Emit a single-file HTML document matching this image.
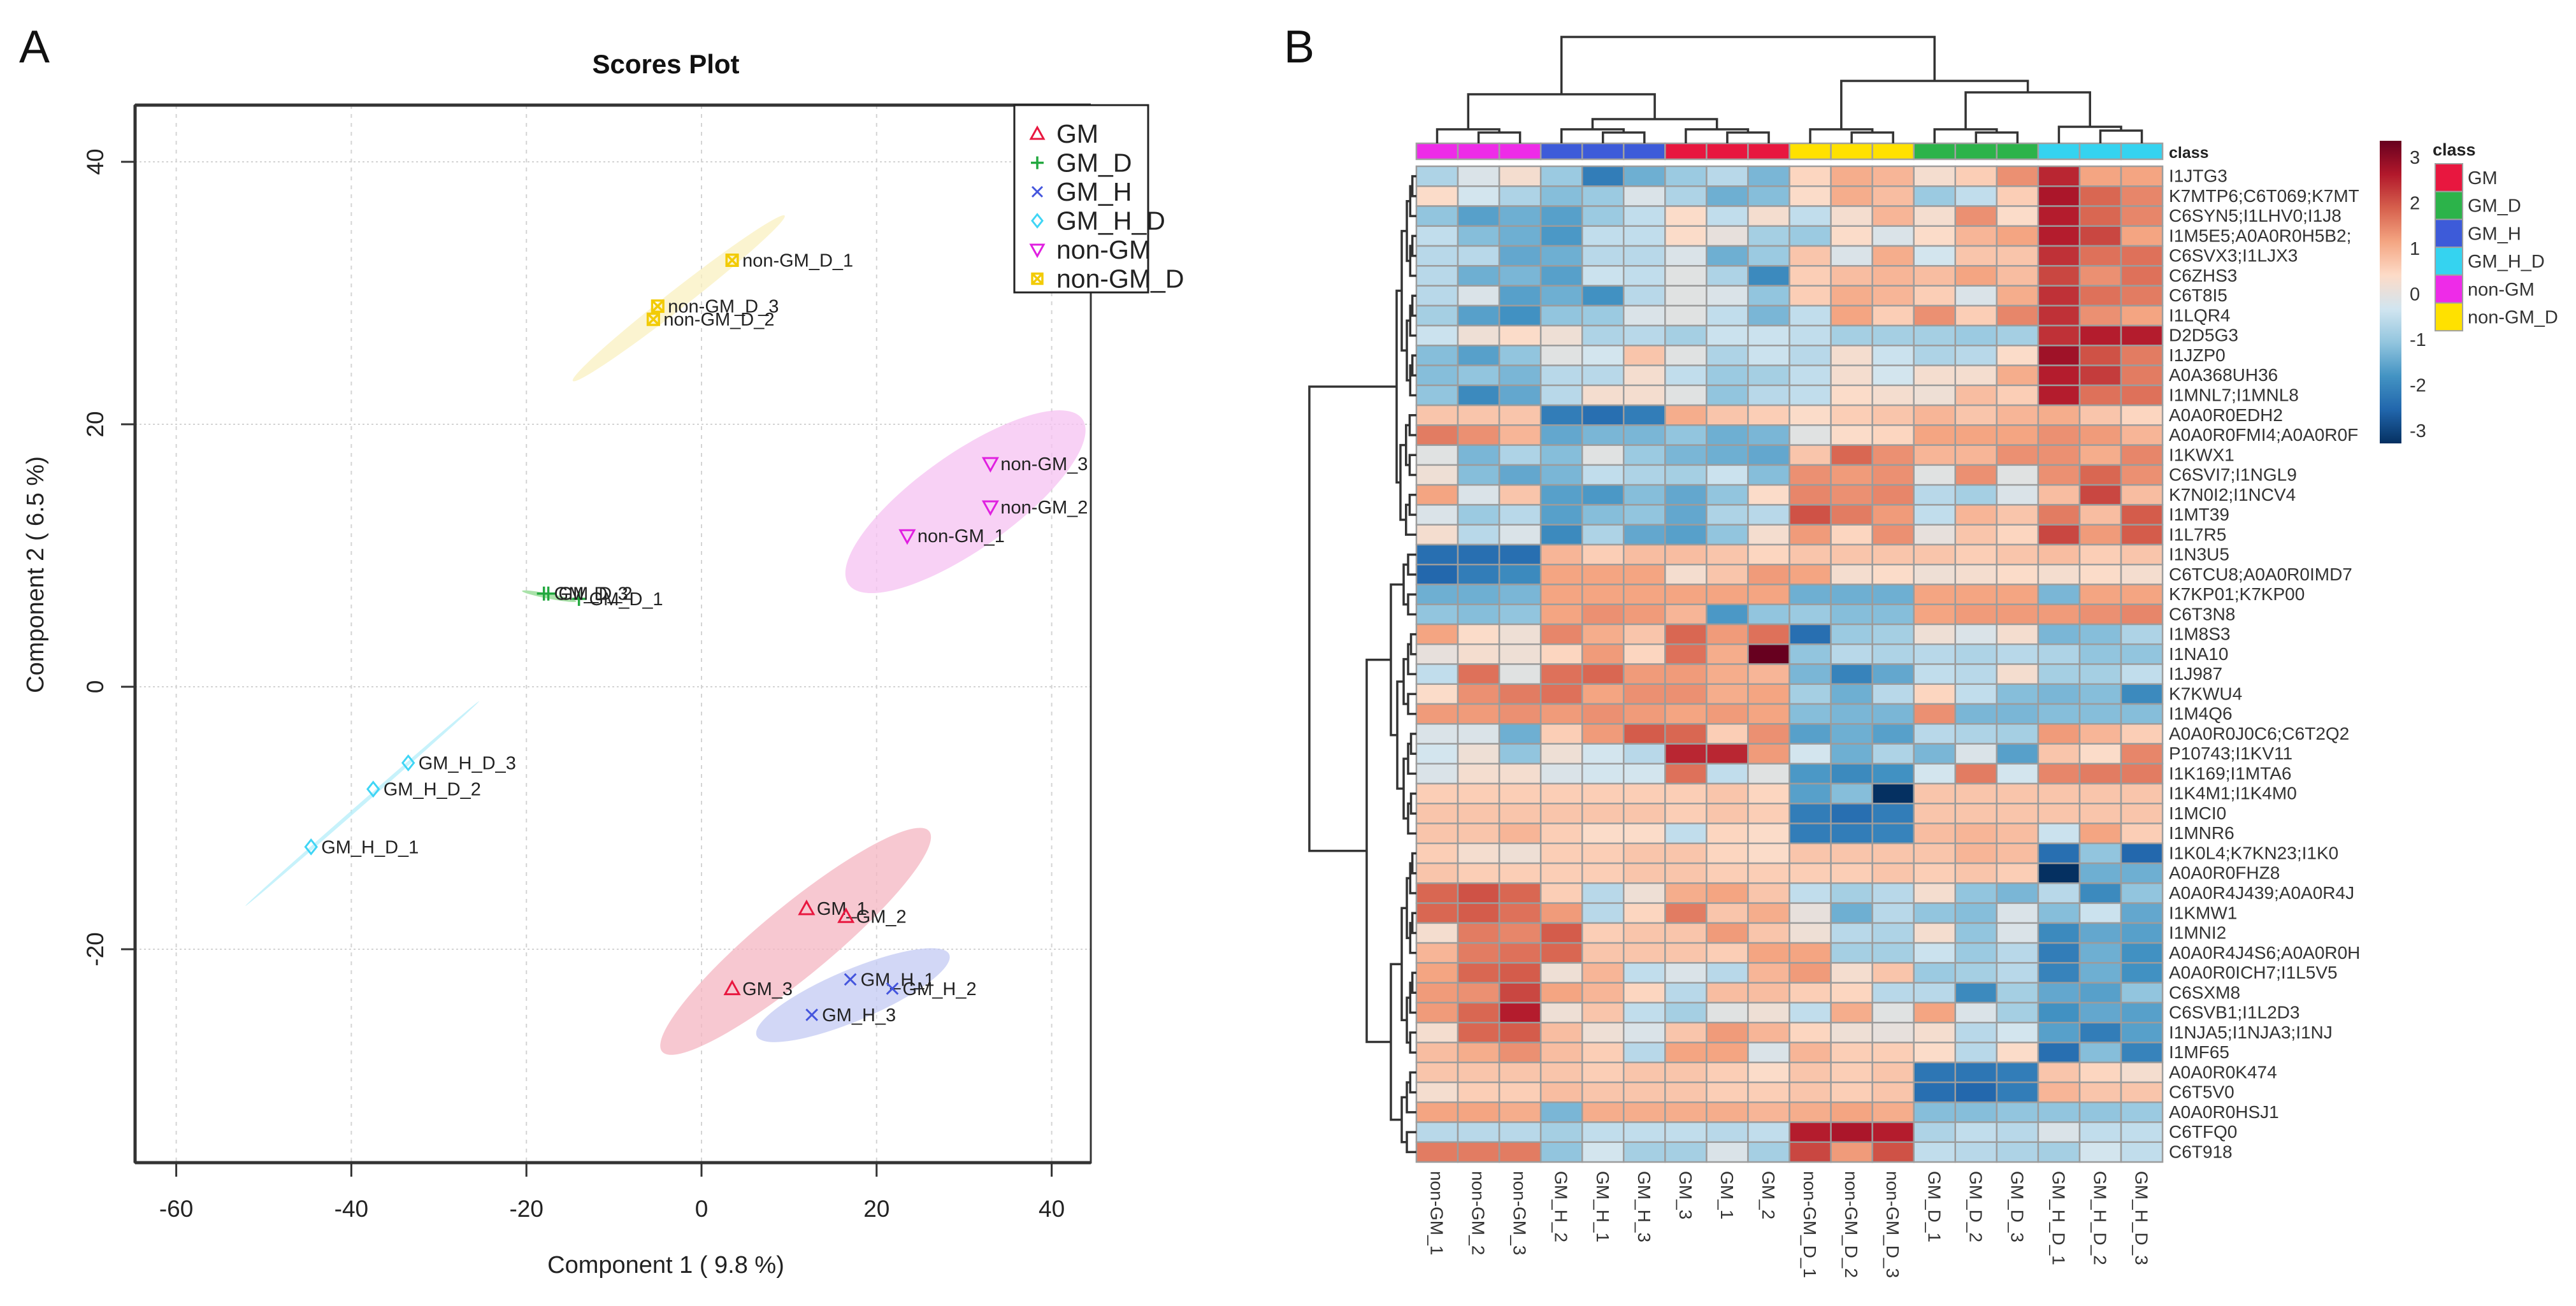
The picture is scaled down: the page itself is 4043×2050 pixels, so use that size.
<!DOCTYPE html>
<html><head><meta charset="utf-8">
<style>
html,body{margin:0;padding:0;background:#fff;}
svg{display:block;font-family:"Liberation Sans",sans-serif;}
</style></head>
<body>
<svg id="fig" width="4043" height="2050" viewBox="0 0 4043 2050" xmlns="http://www.w3.org/2000/svg">
  <defs>
    <linearGradient id="cbar" x1="0" y1="1" x2="0" y2="0">
      <stop offset="0" stop-color="#053061"/><stop offset="0.111" stop-color="#2166AC"/>
      <stop offset="0.222" stop-color="#4393C3"/><stop offset="0.333" stop-color="#92C5DE"/>
      <stop offset="0.444" stop-color="#D1E5F0"/><stop offset="0.5" stop-color="#E7E0DC"/>
      <stop offset="0.556" stop-color="#FDDBC7"/><stop offset="0.667" stop-color="#F4A582"/>
      <stop offset="0.778" stop-color="#D6604D"/><stop offset="0.889" stop-color="#B2182B"/>
      <stop offset="1" stop-color="#67001F"/>
    </linearGradient>
  </defs>
  <text x="30" y="98" font-size="72" fill="#111">A</text>
  <text x="2015" y="98" font-size="72" fill="#111">B</text>
  <g id="scatter"></g>
  <g id="heat"></g>
</svg>
<script>
// ---------- Scores plot data ----------
const sampleNames = ["GM_1","GM_2","GM_3","GM_D_1","GM_D_2","GM_D_3","GM_H_1","GM_H_2","GM_H_3","GM_H_D_1","GM_H_D_2","GM_H_D_3","non-GM_1","non-GM_2","non-GM_3","non-GM_D_1","non-GM_D_2","non-GM_D_3"];
const comp1 = [12,16.5,3.5,-14,-17.5,-18,17,21.8,12.6,-44.6,-37.5,-33.5,23.5,33,33,3.5,-5.5,-5];
const comp2 = [-16.9,-17.5,-23,6.7,7.1,7.1,-22.3,-23,-25,-12.2,-7.8,-5.8,11.5,13.7,17,32.5,28,29];
const sampleGroup = [0,0,0,1,1,1,2,2,2,3,3,3,4,4,4,5,5,5];
const groupNames = ["GM","GM_D","GM_H","GM_H_D","non-GM","non-GM_D"];
const xTicks = [-60,-40,-20,0,20,40];
const yTicks = [-20,0,20,40];
const ellipseStartX = [-4.5,-20.5,6.3,-52.1,16.8,-14.7];
const ellipseStartY = [-27.8,7.3,-26.6,-16.7,7.8,23.3];
const ellipseEndX = [26,-14.3,28.3,-25.4,43.5,9.5];
const ellipseEndY = [-11,6.5,-20.4,-1.1,20.4,35.9];
const ellipseMinor = [55,4,40,3,75,15];

// ---------- Heatmap data ----------
const colLabels = ["non-GM_1","non-GM_2","non-GM_3","GM_H_2","GM_H_1","GM_H_3","GM_3","GM_1","GM_2","non-GM_D_1","non-GM_D_2","non-GM_D_3","GM_D_1","GM_D_2","GM_D_3","GM_H_D_1","GM_H_D_2","GM_H_D_3"];
const colClass = [4,4,4,2,2,2,0,0,0,5,5,5,1,1,1,3,3,3];
const rowLabels = ["I1JTG3","K7MTP6;C6T069;K7MT","C6SYN5;I1LHV0;I1J8","I1M5E5;A0A0R0H5B2;","C6SVX3;I1LJX3","C6ZHS3","C6T8I5","I1LQR4","D2D5G3","I1JZP0","A0A368UH36","I1MNL7;I1MNL8","A0A0R0EDH2","A0A0R0FMI4;A0A0R0F","I1KWX1","C6SVI7;I1NGL9","K7N0I2;I1NCV4","I1MT39","I1L7R5","I1N3U5","C6TCU8;A0A0R0IMD7","K7KP01;K7KP00","C6T3N8","I1M8S3","I1NA10","I1J987","K7KWU4","I1M4Q6","A0A0R0J0C6;C6T2Q2","P10743;I1KV11","I1K169;I1MTA6","I1K4M1;I1K4M0","I1MCI0","I1MNR6","I1K0L4;K7KN23;I1K0","A0A0R0FHZ8","A0A0R4J439;A0A0R4J","I1KMW1","I1MNI2","A0A0R4J4S6;A0A0R0H","A0A0R0ICH7;I1L5V5","C6SXM8","C6SVB1;I1L2D3","I1NJA5;I1NJA3;I1NJ","I1MF65","A0A0R0K474","C6T5V0","A0A0R0HSJ1","C6TFQ0","C6T918"];
const values = [
[-0.7,-0.2,0.2,-0.9,-2,-1.3,-0.9,-0.6,-1.2,0.4,0.9,0.8,0.2,0.5,1.2,2.2,1,1],
[0.3,-0.3,-0.7,-1.1,-0.9,-0.2,-0.7,-1.3,-1.1,0.3,0.9,0.7,-0.9,-0.5,0.5,2.4,1.6,1.3],
[-1,-1.5,-1.3,-1.5,-0.9,-0.5,0.3,-0.5,0.2,-0.5,0.2,0.8,0.2,1.2,0.3,2.3,1.6,1.3],
[-0.5,-1.1,-1.3,-1.6,-0.5,-0.5,0.3,0,-0.8,-0.9,0.3,-0.2,0.3,0.8,1,2.3,1.9,1],
[-0.6,-0.6,-1.4,-1.3,-0.6,-0.6,-0.2,-1.3,-0.9,0.6,-0.2,0.9,-0.3,0.6,0.6,2.1,1.5,1.5],
[-0.6,-1.3,-1.2,-1.5,-0.4,-0.5,-0.1,-0.7,-1.8,0.5,0.7,0.8,0.7,1,0.7,1.9,1.2,1.5],
[-0.6,-0.2,-1.5,-1.3,-1.7,-0.6,-0.1,-0.2,-1,0.5,0.9,0.8,0.5,-0.2,0.9,2.1,1.5,1.4],
[-0.8,-1.5,-1.7,-1,-0.9,-0.2,-0.1,-0.5,-1.2,-0.5,1,0.5,1.2,0.5,1.3,2.1,1.2,1],
[-0.4,0.1,0.3,0.1,-0.7,-0.6,-0.8,-0.4,-0.4,-0.5,-0.8,-0.8,-0.8,-0.9,-0.8,2.1,2.3,2.3],
[-1.1,-1.5,-1,-0.1,-0.3,0.6,-0.1,-0.7,-0.4,-0.6,0.2,-0.4,-0.7,-0.6,0.3,2.5,1.8,1.4],
[-1.1,-1,-1.2,-0.6,-0.6,0.2,-0.5,-0.9,-0.8,-0.5,0.2,-0.3,0.2,0.2,0.9,2.3,2,1.4],
[-1,-1.8,-1.4,-0.6,0.2,0.2,-0.1,-1,-0.6,-0.5,0.3,0.2,0.1,0.7,0.5,2.3,1.5,1.5],
[0.6,0.6,0.6,-2,-2.2,-2,0.9,0.6,0.5,0.3,0.5,0.6,0.8,0.6,0.8,0.9,0.6,0.4],
[1.4,1.2,0.8,-1.4,-1.2,-1.2,-1,-1.3,-1.2,-0.1,0.3,0.4,1,1,1,1.2,1.1,0.8],
[-0.1,-1.2,-0.7,-1.1,-0.1,-0.9,-1.2,-1.3,-1.4,0.6,1.6,1.2,0.8,0.8,1.2,1.2,0.9,1.3],
[0.1,-1.1,-1.4,-1.2,-0.5,-0.7,-0.8,-0.4,-1.1,1.2,1.1,1.2,-0.1,1.2,-0.1,1.2,1.6,1.2],
[1,-0.2,0.6,-1.5,-1.6,-1.1,-1.4,-1,0.3,1.3,1.2,1.3,-0.6,-0.8,-0.2,0.7,1.9,0.7],
[-0.2,-0.9,-0.6,-1.5,-1.1,-1,-1.4,-0.7,-0.6,1.8,1.4,1.1,-0.5,0.8,0.6,1.4,0.7,1.7],
[0.2,-0.6,-0.2,-1.8,-0.7,-1.4,-1.5,-1,0.2,1.1,0.4,1.2,0,0.6,0.4,1.9,1.1,1.7],
[-2.2,-2.2,-2.2,0.8,0.5,0.7,0.7,0.6,0.4,0.6,0.6,0.6,0.6,0.5,0.6,0.7,0.5,0.6],
[-2.3,-2,-1.8,1,1,1,0.2,0.6,1.1,1,0.2,0.3,0.1,0.2,0.3,0.2,0.3,0.2],
[-1.3,-1.3,-1.2,1,1,1,1,1,1,-1.3,-1.3,-1.3,1,1,1,-1.2,1,1],
[-1,-1.1,-1,1,1.2,1.1,0.8,-1.6,-1,-0.9,-1.1,-1.1,1,1.1,1.1,1.1,1.2,1.3],
[1,0.3,0.1,1.3,0.9,0.6,1.6,1.1,1.5,-2.2,-0.9,-0.8,0.1,-0.2,0.2,-1.2,-1.1,-0.7],
[0,0.2,0.1,0.4,1.1,0.4,1.5,0.9,3.2,-1,-0.6,-0.7,-0.6,-0.7,-0.6,-0.7,-1,-1],
[-0.5,1.5,-0.1,1.5,1.6,1.1,1.1,0.9,0.8,-1.2,-1.9,-1.4,-0.5,-0.6,0.2,-0.8,-0.8,-0.5],
[0.3,1.2,1.4,1.5,1,1.2,1.2,0.9,1,-0.8,-1.3,-0.6,0.4,-0.5,-1.1,-1.2,-1.1,-1.8],
[1.1,1.1,1.2,1.1,1.2,1.1,1,1.1,1,-1.1,-1.2,-1.2,1.2,-1.2,-1.2,-1.1,-1.1,-1.1],
[-0.2,-0.2,-1.3,0.5,1.1,1.7,1.6,0.5,1.2,-1.5,-1.3,-1.5,-0.6,-0.7,-0.8,1.1,0.8,0.5],
[-0.3,0.1,-1,0.1,-0.3,-0.6,2.2,2.2,1.1,-0.3,-1.3,-0.7,-1.2,-0.2,-1.5,0.6,0.3,1.3],
[-0.2,0.2,0.2,-0.2,-0.3,-0.3,1.5,-0.5,-0.1,-1.6,-1.8,-1.7,-0.3,1.4,-0.3,1.3,1.4,1.4],
[0.5,0.5,0.5,0.5,0.5,0.5,0.5,0.6,0.4,-1.5,-1.1,-3.2,0.6,0.6,0.6,0.6,0.6,0.6],
[0.6,0.6,0.6,0.6,0.6,0.6,0.5,0.6,0.5,-2,-2.2,-2,0.6,0.6,0.6,0.6,0.6,0.6],
[0.6,0.6,0.8,0.5,0.3,0.3,-0.5,0.4,0.3,-2,-2,-1.9,0.7,0.8,0.7,-0.4,1,0.5],
[0.5,0.2,0.1,0.5,0.5,0.6,0.6,0.4,0.3,0.6,0.6,0.6,0.6,0.8,0.7,-2.2,-1,-2.3],
[0.6,0.5,0.5,0.5,0.5,0.6,0.6,0.5,0.5,0.5,0.5,0.6,0.5,0.6,0.5,-3.2,-1.3,-1.3],
[1.6,1.8,1.6,0.5,-0.6,0.1,0.9,1,0.6,-0.5,-0.8,-0.6,0.2,-1,-1.2,-0.6,-1.8,-1],
[1.6,1.7,1.5,1.1,-0.6,0.4,1.4,0.6,0.9,0,-1.3,-0.6,-1,-1.1,-0.2,-1.1,-0.4,-1.4],
[0.2,1.4,1.3,1.7,0.5,0.6,0.6,1.1,0.6,0.1,-0.6,-0.7,0.2,-1,-0.2,-1.8,-1.4,-1.5],
[0.8,1.4,1.5,1.6,0.6,0.6,0.6,0.5,1,1,-0.8,-0.8,-0.4,-0.9,-0.6,-2,-1.3,-1.7],
[1,1.6,1.7,0.1,0.8,-0.5,-0.2,-0.6,0.8,1.1,0.2,0.6,-0.9,-0.8,-0.6,-1.9,-1.3,-1.7],
[1.1,1.2,1.9,1,0.8,0.4,-0.6,0.7,0.7,0.5,0.4,-0.6,-0.6,-1.8,-0.8,-1.4,-1.5,-1],
[1.1,1.6,2.3,0.1,0.6,-0.5,-0.8,-0.1,0.1,-0.5,0.9,-0.1,1,-0.2,-0.8,-1.7,-1.4,-1.5],
[0.2,1.6,1.7,0.7,0.1,-0.2,0.6,1.1,0.8,0.4,0.1,0,0.2,-0.6,-0.3,-1.5,-2,-1.5],
[0.7,0.9,1.2,0.7,0.5,-0.6,1,1,-0.2,0.8,0.5,0.5,0.3,-0.6,0.3,-2.2,-1.1,-1.9],
[0.6,0.6,0.6,0.6,0.5,0.6,0.6,0.5,0.3,0.6,0.5,0.6,-2.1,-2.1,-2,0.6,0.4,0.2],
[0.2,0.5,0.5,0.7,0.6,0.6,0.6,0.5,0.5,0.6,0.5,0.6,-2.2,-2.3,-2,0.8,0.6,0.6],
[1,1,0.9,-1.2,0.9,0.9,0.9,0.9,0.8,0.9,1,0.9,-1.1,-1.1,-1,-1,-1,-0.9],
[-0.6,-0.6,-0.6,-0.8,-0.5,-0.5,-0.5,-0.6,-0.5,2.3,2.4,2.3,-0.7,-0.5,-0.6,-0.2,-0.5,-0.5],
[1.4,1.4,1.4,-1,-0.3,-0.8,-0.8,-0.2,-0.8,1.9,1.1,1.8,-0.5,-0.6,-0.7,-0.8,-0.3,-0.5]
];
const scaleTicks = [3,2,1,0,-1,-2,-3];

const NS = "http://www.w3.org/2000/svg";
function mk(parent, tag, attrs, text){
  const e = document.createElementNS(NS, tag);
  for (const k in attrs) e.setAttribute(k, attrs[k]);
  if (text !== undefined) e.textContent = text;
  parent.appendChild(e);
  return e;
}

// ================= SCATTER =================
const sc = document.getElementById('scatter');
const PX0 = 212, PX1 = 1712, PY0 = 165, PY1 = 1825;
function sx(v){ return 1101 + 13.74 * v; }
function sy(v){ return 1078 - 20.6 * v; }
const groupColors = ["#E8173F","#22A83F","#4455DD","#3FD5F5","#E020E0","#F2CB05"];
const ellFill = ["#F4B6C2","#8CD88C","#C3CAF3","#B4EEFA","#F6C1F2","#FAF0C0"];

xTicks.forEach(t => {
  const g = mk(sc,'line',{x1:sx(t),x2:sx(t),y1:PY0,y2:PY1,stroke:"#d4d4d4","stroke-width":2,"stroke-dasharray":"6,8"});
  
  
});
yTicks.forEach(t => {
  const g = mk(sc,'line',{x1:PX0,x2:PX1,y1:sy(t),y2:sy(t),stroke:"#d4d4d4","stroke-width":2,"stroke-dasharray":"3,4"});
  
  
});
for (let i=0;i<ellipseStartX.length;i++){
  const x1=sx(ellipseStartX[i]), y1=sy(ellipseStartY[i]), x2=sx(ellipseEndX[i]), y2=sy(ellipseEndY[i]);
  const cx=(x1+x2)/2, cy=(y1+y2)/2, len=Math.hypot(x2-x1,y2-y1)/2;
  const ang=Math.atan2(y2-y1,x2-x1)*180/Math.PI;
  const e = mk(sc,'ellipse',{cx:cx,cy:cy,rx:len,ry:ellipseMinor[i],fill:ellFill[i],"fill-opacity":0.75,transform:`rotate(${ang} ${cx} ${cy})`});
  
  
}
const box = mk(sc,'rect',{x:PX0,y:PY0,width:PX1-PX0,height:PY1-PY0,fill:"none",stroke:"#333","stroke-width":3});


mk(sc,'line',{x1:PX0,x2:PX0,y1:PY0,y2:PY1,stroke:"#333","stroke-width":5});
mk(sc,'line',{x1:PX0,x2:PX1,y1:PY1,y2:PY1,stroke:"#333","stroke-width":5});
mk(sc,'line',{x1:PX0,x2:PX1,y1:PY0,y2:PY0,stroke:"#333","stroke-width":5});
xTicks.forEach(t => {
  mk(sc,'line',{x1:sx(t),x2:sx(t),y1:PY1,y2:PY1+22,stroke:"#333","stroke-width":3});
  const l = mk(sc,'text',{x:sx(t),y:1910,"font-size":37,"text-anchor":"middle",fill:"#222"},String(t));
  
  
});
yTicks.forEach(t => {
  mk(sc,'line',{x1:PX0-22,x2:PX0,y1:sy(t),y2:sy(t),stroke:"#333","stroke-width":3});
  const l = mk(sc,'text',{x:162,y:sy(t),"font-size":37,"text-anchor":"middle",fill:"#222",transform:`rotate(-90 162 ${sy(t)})`},String(t));
  
  
});
const tt = mk(sc,'text',{x:1045,y:115,"font-size":42,"font-weight":"bold","text-anchor":"middle",fill:"#111"},"Scores Plot");


const xt = mk(sc,'text',{x:1045,y:1998,"font-size":38,"text-anchor":"middle",fill:"#222"},"Component 1 ( 9.8 %)");


const yt = mk(sc,'text',{x:68,y:902,"font-size":38,"text-anchor":"middle",fill:"#222",transform:"rotate(-90 68 902)"},"Component 2 ( 6.5 %)");



function symbol(parent, g, x, y, s){
  const c = groupColors[g]; let el;
  if (g===0) el = mk(parent,'polygon',{points:`${x},${y-s} ${x-s},${y+s*0.8} ${x+s},${y+s*0.8}`,fill:"none",stroke:c,"stroke-width":3});
  else if (g===1) el = mk(parent,'path',{d:`M${x-s} ${y}H${x+s}M${x} ${y-s}V${y+s}`,stroke:c,"stroke-width":3.5});
  else if (g===2) el = mk(parent,'path',{d:`M${x-s*0.8} ${y-s*0.8}L${x+s*0.8} ${y+s*0.8}M${x+s*0.8} ${y-s*0.8}L${x-s*0.8} ${y+s*0.8}`,stroke:c,"stroke-width":3});
  else if (g===3) el = mk(parent,'polygon',{points:`${x},${y-s} ${x+s*0.8},${y} ${x},${y+s} ${x-s*0.8},${y}`,fill:"none",stroke:c,"stroke-width":3});
  else if (g===4) el = mk(parent,'polygon',{points:`${x},${y+s} ${x-s},${y-s*0.8} ${x+s},${y-s*0.8}`,fill:"none",stroke:c,"stroke-width":3});
  else el = mk(parent,'path',{d:`M${x-s*0.8} ${y-s*0.8}h${s*1.6}v${s*1.6}h${-s*1.6}zM${x-s*0.8} ${y-s*0.8}L${x+s*0.8} ${y+s*0.8}M${x+s*0.8} ${y-s*0.8}L${x-s*0.8} ${y+s*0.8}`,fill:"none",stroke:c,"stroke-width":3.5});
  return el;
}
for (let i=0;i<sampleNames.length;i++){
  const x=sx(comp1[i]), y=sy(comp2[i]);
  const p = symbol(sc, sampleGroup[i], x, y, 11);
  
  
  const l = mk(sc,'text',{x:x+16,y:y+10,"font-size":29,fill:"#222"},sampleNames[i]);
  
  
}
const lg = mk(sc,'g',{});


mk(lg,'rect',{x:1592,y:165,width:210,height:294,fill:"#fff",stroke:"#222","stroke-width":3});
groupNames.forEach((n,i) => {
  const y = 210 + i*45.5;
  const it = mk(lg,'g',{});
  
  
  symbol(it, i, 1628, y, 10);
  mk(it,'text',{x:1658,y:y+14,"font-size":41,fill:"#222"},n);
});

// ================= HEATMAP =================
const hm = document.getElementById('heat');
const HX0 = 2223, CW = 65.06, HY0 = 261, RH = 31.26;
function hx(c){ return HX0 + c*CW; }
function hy(r){ return HY0 + r*RH; }
const stops = ['#053061','#2166AC','#4393C3','#92C5DE','#D1E5F0','#FDDBC7','#F4A582','#D6604D','#B2182B','#67001F'];
function hexRgb(h){ return [parseInt(h.slice(1,3),16),parseInt(h.slice(3,5),16),parseInt(h.slice(5,7),16)]; }
function colorOf(v){
  let t = (v+3)/6*9; t = Math.max(0, Math.min(9, t));
  const i = Math.min(8, Math.floor(t)), f = t - i;
  const a = hexRgb(stops[i]), b = hexRgb(stops[i+1]);
  return `rgb(${Math.round(a[0]+(b[0]-a[0])*f)},${Math.round(a[1]+(b[1]-a[1])*f)},${Math.round(a[2]+(b[2]-a[2])*f)})`;
}
const classColors = ["#E8173F","#2CB34A","#3D5BD9","#35D3F0","#EE2BE8","#FFE100"];

for (let c=0;c<colLabels.length;c++){
  const r = mk(hm,'rect',{x:hx(c),y:225,width:CW,height:25,fill:classColors[colClass[c]],stroke:"#a0a0a0","stroke-width":2.5});
  
  
}
const cl = mk(hm,'text',{x:3404,y:248,"font-size":25,"font-weight":"bold",fill:"#222"},"class");



for (let r=0;r<values.length;r++){
  for (let c=0;c<values[r].length;c++){
    const cell = mk(hm,'rect',{x:hx(c),y:hy(r),width:CW,height:RH,fill:colorOf(values[r][c]),stroke:"#9c9c9c","stroke-width":2.5});
    
    
  }
  const l = mk(hm,'text',{x:3404,y:hy(r)+RH/2+9,"font-size":28,fill:"#333"},rowLabels[r]);
  
  
}
for (let c=0;c<colLabels.length;c++){
  const x = hx(c)+CW/2 - 10, y = 1838;
  const l = mk(hm,'text',{x:x,y:y,"font-size":28,fill:"#333",transform:`rotate(90 ${x} ${y})`},colLabels[c]);
  
  
}

const dg = mk(hm,'g',{stroke:"#333","stroke-width":3.5,fill:"none"});


function colU(a, b, y){
  mk(dg,'path',{d:`M${a.x} ${a.y}V${y}H${b.x}V${b.y}`});
  return {x:(a.x+b.x)/2, y:y};
}
function leafC(c){ return {x:hx(c)+CW/2, y:225}; }
function triplet(s, yOuter, yInner){
  const p = colU(leafC(s+1), leafC(s+2), yInner);
  return colU(leafC(s), p, yOuter);
}
const tNG = triplet(0,203,208), tGH = triplet(3,203,208), tG = triplet(6,203,208);
const tNGD = triplet(9,203,208), tGD = triplet(12,203,208), tGHD = triplet(15,199,205);
const left = colU(tNG, colU(tGH, tG, 187), 148);
const right = colU(tNGD, colU(tGD, tGHD, 145), 127);
colU(left, right, 58);

function rowU(a, b, x){
  mk(dg,'path',{d:`M${a.x} ${a.y}H${x}V${b.y}H${b.x}`});
  return {x:x, y:(a.y+b.y)/2};
}
function sub(lo, hi, x){
  if (lo === hi) return {x:HX0, y:hy(lo)+RH/2};
  const mid = Math.floor((lo+hi)/2);
  const nx = x + (HX0 - x)*0.35;
  return rowU(sub(lo,mid,nx), sub(mid+1,hi,nx), x);
}
const gA = sub(0,11,2200), gB = sub(12,18,2198);
const AB = rowU(gA, gB, 2192);
const gC1 = sub(19,22,2203), gC2 = sub(23,27,2203), gC3 = sub(28,33,2203);
const C = rowU(gC1, rowU(gC2, gC3, 2193), 2183);
const gD1 = sub(34,44,2200), gD2 = sub(45,49,2200);
const D = rowU(gD1, gD2, 2183);
const CD = rowU(C, D, 2145);
rowU(AB, CD, 2055);

const cb = mk(hm,'rect',{x:3735,y:221,width:34,height:475,fill:"url(#cbar)"});


scaleTicks.forEach(t => {
  const y = 460.5 - t*71.5;
  const l = mk(hm,'text',{x:3782,y:y+11,"font-size":29,fill:"#333"},String(t));
  
  
});
const lgc = mk(hm,'g',{});


mk(lgc,'text',{x:3818,y:244,"font-size":27,"font-weight":"bold",fill:"#222"},"class");
groupNames.forEach((n,i) => {
  const y = 257 + i*43.7;
  const it = mk(lgc,'g',{});
  
  
  mk(it,'rect',{x:3822,y:y,width:43,height:43.7,fill:classColors[i],stroke:"#a0a0a0","stroke-width":2});
  mk(it,'text',{x:3873,y:y+32,"font-size":29,fill:"#333"},n);
});
</script>
</body></html>
